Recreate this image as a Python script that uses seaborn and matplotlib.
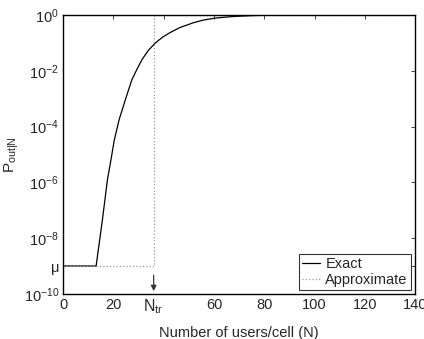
import numpy as np
import pandas as pd
import matplotlib
matplotlib.use('Agg')
import matplotlib.pyplot as plt
import seaborn as sns
from matplotlib.ticker import NullLocator

# values
users = [0, 13.1, 15.6, 17.6, 19.0, 20.3, 22.3, 24.7, 27.3, 29.4, 31.3, 33.8, 36.6, 39.5, 42.6,
         46.5, 51.8, 56, 61, 67, 74, 80, 90, 140]
p_exact = [1e-9, 1e-9, 10**-7.35, 10**-5.91, 10**-5.2, 10**-4.5, 10**-3.74, 10**-3.05, 10**-2.33,
           10**-1.94, 10**-1.61, 10**-1.28, 10**-1.01, 10**-0.8, 10**-0.63, 10**-0.45, 10**-0.28,
           10**-0.18, 10**-0.11, 10**-0.06, 10**-0.03, 10**-0.01, 1.0, 1.0]
mu = 1e-9
n_tr = 36
users_approx = [0, n_tr, n_tr, 140]
p_approx = [mu, mu, 1.0, 1.0]

sns.set_style('white')
plt.rcParams['font.family'] = ['Liberation Sans', 'DejaVu Sans']
plt.rcParams['mathtext.fontset'] = 'custom'
plt.rcParams['mathtext.rm'] = 'Liberation Sans'
plt.rcParams['mathtext.it'] = 'Liberation Sans:italic'
plt.rcParams['mathtext.default'] = 'regular'

exact_df = pd.DataFrame({'N': users, 'P': p_exact})
approx_df = pd.DataFrame({'N': users_approx, 'P': p_approx})

fig, ax = plt.subplots(figsize=(4.24, 3.39), dpi=100)
fig.subplots_adjust(left=0.149, right=0.979, top=0.956, bottom=0.133)

sns.lineplot(data=exact_df, x='N', y='P', color='black', lw=0.9, sort=False,
             estimator=None, ax=ax, label='Exact')
sns.lineplot(data=approx_df, x='N', y='P', color='#999999', lw=0.9, ls=':', sort=False,
             estimator=None, ax=ax, label='Approximate')

ax.set_yscale('log')
ax.set_xlim(0, 140)
ax.set_ylim(1e-10, 1)

ax.set_xticks([0, 20, 40, 60, 80, 100, 120, 140])
ax.set_xticklabels(['0', '20', '', '60', '80', '100', '120', '140'])
ax.set_yticks([1e-10, 1e-9, 1e-8, 1e-6, 1e-4, 1e-2, 1])
ax.set_yticklabels(['$10^{-10}$', 'μ', '$10^{-8}$', '$10^{-6}$', '$10^{-4}$', '$10^{-2}$', '$10^{0}$'])
ax.yaxis.set_minor_locator(NullLocator())
ax.tick_params(direction='in', length=3, width=0.6, top=True, right=True, labelsize=10.5, pad=3)

for s in ax.spines.values():
    s.set_linewidth(1.0)
    s.set_color('black')

ax.text(n_tr, 10**-10.12, '$N_{tr}$', ha='center', va='top', fontsize=11.5, clip_on=False)
ax.annotate('', xy=(n_tr, 1e-10), xytext=(n_tr, 10**-9.23),
            arrowprops=dict(arrowstyle='-|>', color='#333333', lw=0.9, mutation_scale=8))

ax.set_xlabel('Number of users/cell (N)', fontsize=10.5, labelpad=10)
ax.set_ylabel('$P_{out|N}$', fontsize=11, labelpad=2)

leg = ax.legend(loc='lower right', fontsize=10.5, frameon=True, fancybox=False,
                edgecolor='black', borderpad=0.2, handlelength=1.2, handletextpad=0.4,
                labelspacing=0.1, borderaxespad=0.3)
leg.get_frame().set_linewidth(0.8)

fig.savefig('out.png', dpi=100)
